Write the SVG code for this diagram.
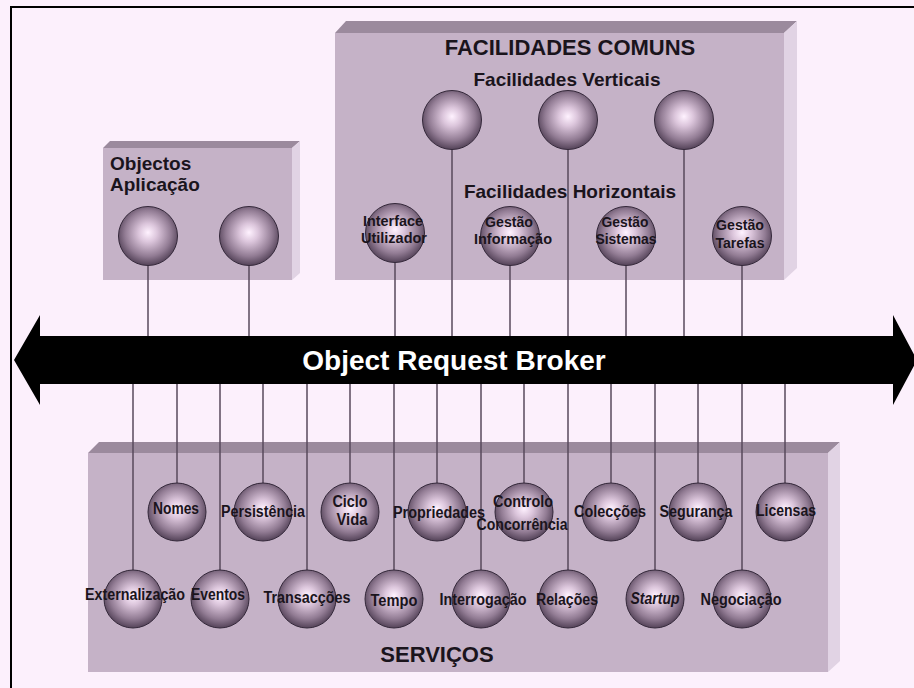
<svg xmlns="http://www.w3.org/2000/svg" width="914" height="688" viewBox="0 0 914 688">
<defs>
<radialGradient id="sph" cx="50%" cy="46%" r="52%" fx="50%" fy="44%">
<stop offset="0" stop-color="#FFF2FF"/>
<stop offset="0.3" stop-color="#DCC6DC"/>
<stop offset="0.75" stop-color="#927C94"/>
<stop offset="1" stop-color="#5C4A60"/>
</radialGradient>
<style>
.sp{fill:url(#sph);stroke:#34283A;stroke-width:1}
.front{fill:#C5B2C7}
.top{fill:#9B8A9D}
.side{fill:#E1D3E4}
.ln{stroke:#584A5C;stroke-width:1.5;fill:none}
.lb{font-family:"Liberation Sans",Arial,sans-serif;font-weight:bold;font-size:16px;fill:#1A141C;text-anchor:middle}
.ls{font-family:"Liberation Sans",Arial,sans-serif;font-weight:bold;font-size:14.5px;fill:#1A141C;text-anchor:middle}
.hd{font-family:"Liberation Sans",Arial,sans-serif;font-weight:bold;fill:#1A141C}
</style>
</defs>
<rect width="914" height="688" fill="#FCF0FC"/>
<path d="M11,688 V7 H914" fill="none" stroke="#000" stroke-width="2"/>

<g id="box-objectos">
<polygon class="top" points="103,148 110,141 300,141 292,148"/>
<polygon class="side" points="292,148 300,141 300,273 292,280"/>
<rect class="front" x="103" y="148" width="189" height="132"/>
<text class="hd" x="110" y="170" font-size="19">Objectos</text>
<text class="hd" x="110" y="191" font-size="19">Aplicação</text>
</g>

<g id="box-facilidades">
<polygon class="top" points="335,33 346,21 797,21 784,33"/>
<polygon class="side" points="784,33 797,21 797,268 784,280"/>
<rect class="front" x="335" y="33" width="449" height="247"/>
<text class="hd" x="570" y="55" font-size="22" text-anchor="middle">FACILIDADES COMUNS</text>
<text class="hd" x="567" y="86" font-size="19" text-anchor="middle">Facilidades Verticais</text>
<text class="hd" x="570" y="198" font-size="19" text-anchor="middle">Facilidades Horizontais</text>
</g>

<g id="box-servicos">
<polygon class="top" points="88,453 99,442 840,442 828,453"/>
<polygon class="side" points="828,453 840,442 840,661 828,672"/>
<rect class="front" x="88" y="453" width="740" height="219"/>
<text class="hd" x="437" y="662" font-size="22" text-anchor="middle">SERVIÇOS</text>
</g>

<g id="connectors">
<path class="ln" d="M148,265 V336 M249,265 V336 M395,262 V336 M452,149 V336 M510,265 V336 M568,149 V336 M626,265 V336 M684,149 V336 M742,265 V336"/>
<path class="ln" d="M133,384 V570 M177,384 V483 M220,384 V570 M263,384 V483 M307,384 V570 M350,384 V483 M394,384 V570 M437,384 V483 M481,384 V570 M524,384 V483 M568,384 V570 M611,384 V483 M655,384 V570 M698,384 V483 M742,384 V570 M785,384 V483"/>
</g>

<g id="orb">
<polygon fill="#000" points="14,360 40,315 40,336 893,336 893,315 917,360 893,405 893,384 40,384 40,405"/>
<text x="454" y="370" font-family="'Liberation Sans',Arial,sans-serif" font-weight="bold" font-size="28" fill="#FFFFFF" text-anchor="middle">Object Request Broker</text>
</g>

<g id="app-obj-1"><circle class="sp" cx="148" cy="236" r="29.5"/></g>
<g id="app-obj-2"><circle class="sp" cx="249" cy="236" r="29.5"/></g>

<g id="vert-1"><circle class="sp" cx="452" cy="120" r="29.5"/></g>
<g id="vert-2"><circle class="sp" cx="568" cy="120" r="29.5"/></g>
<g id="vert-3"><circle class="sp" cx="684" cy="120" r="29.5"/></g>

<g id="interface-utilizador"><circle class="sp" cx="395" cy="233" r="29.5"/>
<text class="ls" x="393" y="226" textLength="60" lengthAdjust="spacingAndGlyphs">Interface</text><text class="ls" x="394" y="243" textLength="66" lengthAdjust="spacingAndGlyphs">Utilizador</text></g>
<g id="gestao-informacao"><circle class="sp" cx="510" cy="236" r="29.5"/>
<text class="ls" x="509" y="227" textLength="48" lengthAdjust="spacingAndGlyphs">Gestão</text><text class="ls" x="513" y="244" textLength="78" lengthAdjust="spacingAndGlyphs">Informação</text></g>
<g id="gestao-sistemas"><circle class="sp" cx="626" cy="236" r="29.5"/>
<text class="ls" x="625" y="227" textLength="47" lengthAdjust="spacingAndGlyphs">Gestão</text><text class="ls" x="626" y="244" textLength="61" lengthAdjust="spacingAndGlyphs">Sistemas</text></g>
<g id="gestao-tarefas"><circle class="sp" cx="742" cy="236" r="29.5"/>
<text class="ls" x="740" y="230" textLength="48" lengthAdjust="spacingAndGlyphs">Gestão</text><text class="ls" x="740" y="248" textLength="49" lengthAdjust="spacingAndGlyphs">Tarefas</text></g>

<g id="nomes"><circle class="sp" cx="177" cy="512" r="29"/><text class="lb" x="176" y="514" textLength="46" lengthAdjust="spacingAndGlyphs">Nomes</text></g>
<g id="persistencia"><circle class="sp" cx="263" cy="512" r="29"/><text class="lb" x="263" y="517" textLength="84" lengthAdjust="spacingAndGlyphs">Persistência</text></g>
<g id="ciclo-vida"><circle class="sp" cx="350" cy="512" r="29"/><text class="lb" x="350" y="507" textLength="35" lengthAdjust="spacingAndGlyphs">Ciclo</text><text class="lb" x="352" y="525" textLength="31" lengthAdjust="spacingAndGlyphs">Vida</text></g>
<g id="propriedades"><circle class="sp" cx="437" cy="512" r="29"/><text class="lb" x="439" y="518" textLength="92" lengthAdjust="spacingAndGlyphs">Propriedades</text></g>
<g id="controlo-concorrencia"><circle class="sp" cx="524" cy="512" r="29"/><text class="lb" x="523" y="507" textLength="60" lengthAdjust="spacingAndGlyphs">Controlo</text><text class="lb" x="522" y="530" textLength="91" lengthAdjust="spacingAndGlyphs">Concorrência</text></g>
<g id="coleccoes"><circle class="sp" cx="611" cy="512" r="29"/><text class="lb" x="610" y="517" textLength="72" lengthAdjust="spacingAndGlyphs">Colecções</text></g>
<g id="seguranca"><circle class="sp" cx="698" cy="512" r="29"/><text class="lb" x="696" y="517" textLength="73" lengthAdjust="spacingAndGlyphs">Segurança</text></g>
<g id="licensas"><circle class="sp" cx="785" cy="512" r="29"/><text class="lb" x="786" y="516" textLength="60" lengthAdjust="spacingAndGlyphs">Licensas</text></g>

<g id="externalizacao"><circle class="sp" cx="133" cy="599" r="29"/><text class="lb" x="135" y="600" textLength="100" lengthAdjust="spacingAndGlyphs">Externalização</text></g>
<g id="eventos"><circle class="sp" cx="220" cy="599" r="29"/><text class="lb" x="218" y="600" textLength="54" lengthAdjust="spacingAndGlyphs">Eventos</text></g>
<g id="transaccoes"><circle class="sp" cx="307" cy="599" r="29"/><text class="lb" x="307" y="603" textLength="87" lengthAdjust="spacingAndGlyphs">Transacções</text></g>
<g id="tempo"><circle class="sp" cx="394" cy="599" r="29"/><text class="lb" x="394" y="606" textLength="47" lengthAdjust="spacingAndGlyphs">Tempo</text></g>
<g id="interrogacao"><circle class="sp" cx="481" cy="599" r="29"/><text class="lb" x="483" y="605" textLength="87" lengthAdjust="spacingAndGlyphs">Interrogação</text></g>
<g id="relacoes"><circle class="sp" cx="568" cy="599" r="29"/><text class="lb" x="567" y="605" textLength="62" lengthAdjust="spacingAndGlyphs">Relações</text></g>
<g id="startup"><circle class="sp" cx="655" cy="599" r="29"/><text class="lb" x="655" y="604" font-style="italic" textLength="49" lengthAdjust="spacingAndGlyphs">Startup</text></g>
<g id="negociacao"><circle class="sp" cx="742" cy="599" r="29"/><text class="lb" x="741" y="605" textLength="81" lengthAdjust="spacingAndGlyphs">Negociação</text></g>
</svg>
